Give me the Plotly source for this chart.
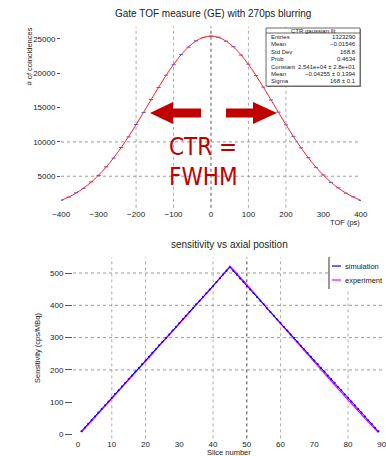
import plotly.graph_objects as go

# ---------------- data ----------------
tof_ps = [-400, -380, -360, -340, -320, -300, -280, -260, -240, -220, -200, -180, -160, -140,
          -120, -100, -80, -60, -40, -20, 0, 20, 40, 60, 80, 100, 120, 140, 160, 180, 200,
          220, 240, 260, 280, 300, 320, 340, 360, 380, 400]
hist_counts = [1520, 1950, 2590, 3250, 4170, 5120, 6360, 7640, 9190, 10740, 12540, 14290,
               16170, 17930, 19720, 21250, 22720, 23810, 24730, 25200, 25420, 25250, 24680,
               23870, 22650, 21320, 19650, 17990, 16110, 14340, 12480, 10810, 9130, 7700,
               6300, 5180, 4110, 3300, 2530, 1990, 1470]
fit_counts = [1492, 1968, 2558, 3279, 4142, 5159, 6336, 7672, 9158, 10780, 12510, 14313,
              16145, 17957, 19688, 21285, 22686, 23840, 24700, 25231, 25410, 25231, 24700,
              23840, 22686, 21285, 19688, 17957, 16145, 14313, 12510, 10780, 9158, 7672,
              6336, 5159, 4142, 3279, 2558, 1968, 1492]

stats_title = "CTR gaussian fit"
stats_labels = ["Entries", "Mean", "Std Dev", "Prob", "Constant", "Mean", "Sigma"]
stats_values = ["1323290", "\u22120.01546", "168.8", "0.4634",
                "2.541e+04 \u00b1 2.8e+01", "\u22120.04255 \u00b1 0.1394", "168 \u00b1 0.1"]

slices = list(range(1, 90))
simulation = [10, 22, 33, 45, 56, 68, 79, 91, 102, 114, 126, 137, 149, 160, 172, 183, 195,
              206, 218, 229, 241, 253, 264, 276, 287, 299, 310, 322, 333, 345, 357, 368, 380,
              391, 403, 414, 426, 437, 449, 460, 472, 484, 495, 507, 518,
              506, 495, 483, 472, 460, 449, 437, 426, 414, 403, 391, 379, 368, 356, 345, 333,
              322, 310, 299, 287, 275, 264, 252, 241, 229, 218, 206, 195, 183, 171, 160, 148,
              137, 125, 114, 102, 91, 79, 68, 56, 44, 33, 21, 10]
experiment = [8, 19, 31, 42, 54, 65, 77, 88, 100, 111, 123, 135, 146, 158, 169, 181, 192,
              204, 215, 227, 239, 250, 262, 273, 285, 297, 308, 320, 331, 343, 355, 366, 378,
              389, 401, 413, 424, 436, 447, 459, 471, 482, 494, 506, 521,
              510, 499, 487, 476, 464, 452, 440, 427, 415, 403, 391, 379, 367, 355, 344, 332,
              320, 308, 297, 285, 273, 261, 249, 237, 224, 212, 200, 189, 177, 165, 154, 142,
              131, 119, 108, 96, 85, 73, 62, 50, 39, 27, 16, 6]

top_xticks = [-400, -300, -200, -100, 0, 100, 200, 300, 400]
top_xlabels = ["\u2212400", "\u2212300", "\u2212200", "\u2212100", "0", "100", "200", "300", "400"]
top_yticks = [5000, 10000, 15000, 20000, 25000]
top_ylabels = ["5000", "10000", "15000", "20000", "25000"]
bot_xticks = [0, 10, 20, 30, 40, 50, 60, 70, 80, 90]
bot_yticks = [0, 100, 200, 300, 400, 500]

top_vgrid = [-200, -100, 0, 100, 200]
top_hgrid = [5000, 10000]
bot_vgrid = [10, 20, 40, 50, 60, 80]
bot_hgrid = [200, 300, 400, 500]

# ---------------- layout helpers ----------------
W, H = 386, 456
def px(x):
    return x / W
def py(y):
    return 1 - y / H

FONT = "Liberation Sans, Arial, sans-serif"
TXT = "#222222"
RED = "#c00000"

fig = go.Figure()

# top chart
fig.add_trace(go.Scatter(x=tof_ps, y=hist_counts, mode="markers",
                         marker=dict(symbol="line-ew", size=3, color="#3030ff",
                                     line=dict(color="rgba(40,40,255,0.8)", width=1)),
                         xaxis="x", yaxis="y", showlegend=False))
fig.add_trace(go.Scatter(x=tof_ps, y=fit_counts, mode="lines", line_shape="spline",
                         line=dict(color="#ff2020", width=1),
                         xaxis="x", yaxis="y", showlegend=False))

# bottom chart
fig.add_trace(go.Scatter(x=slices, y=experiment, mode="lines",
                         line=dict(color="#ff00ff", width=1.3),
                         xaxis="x2", yaxis="y2", showlegend=False, name="experiment"))
fig.add_trace(go.Scatter(x=slices, y=simulation, mode="lines+markers",
                         line=dict(color="#0000ff", width=1),
                         marker=dict(size=2, color="#0000ff"),
                         xaxis="x2", yaxis="y2", showlegend=False, name="simulation"))

shapes = []
# gridlines
for v in top_vgrid:
    shapes.append(dict(type="line", xref="x", yref="y domain", x0=v, x1=v, y0=0, y1=1,
                       line=dict(color="#555555" if v == 0 else "#aaaaaa", width=1, dash="dot"),
                       layer="below"))
for v in top_hgrid:
    shapes.append(dict(type="line", xref="x domain", yref="y", x0=0, x1=1, y0=v, y1=v,
                       line=dict(color="#999999", width=1, dash="dot"), layer="below"))
for v in bot_vgrid:
    shapes.append(dict(type="line", xref="x2", yref="y2 domain", x0=v, x1=v, y0=0, y1=1,
                       line=dict(color="#444444" if v == 50 else "#aaaaaa", width=1, dash="dot"),
                       layer="below"))
for v in bot_hgrid:
    shapes.append(dict(type="line", xref="x2 domain", yref="y2", x0=0, x1=1, y0=v, y1=v,
                       line=dict(color="#999999", width=1, dash="dot"), layer="below"))

# arrows
def path(pts):
    return "M " + " L ".join(f"{px(a):.5f},{py(b):.5f}" for a, b in pts) + " Z"
left_arrow = [(150, 113), (173, 102), (173, 108.5), (201, 108.5), (201, 117.5), (173, 117.5), (173, 124)]
right_arrow = [(226, 108.5), (253, 108.5), (253, 102), (277, 113), (253, 124), (253, 117.5), (226, 117.5)]
for pts in (left_arrow, right_arrow):
    shapes.append(dict(type="path", xref="paper", yref="paper", path=path(pts),
                       fillcolor=RED, line=dict(width=0), layer="above"))

# stats box
shapes.append(dict(type="rect", xref="paper", yref="paper", x0=px(267), x1=px(361), y0=py(87), y1=py(29),
                   fillcolor="#888888", line=dict(width=0), layer="above"))
shapes.append(dict(type="rect", xref="paper", yref="paper", x0=px(266), x1=px(360), y0=py(86), y1=py(28),
                   fillcolor="white", line=dict(color="#444444", width=0.8), layer="above"))
shapes.append(dict(type="line", xref="paper", yref="paper", x0=px(266), x1=px(360), y0=py(33), y1=py(33),
                   line=dict(color="#444444", width=0.8), layer="above"))

# legend box (bottom)
shapes.append(dict(type="rect", xref="paper", yref="paper", x0=px(329), x1=px(390), y0=py(289), y1=py(257),
                   fillcolor="white", line=dict(width=0), layer="above"))
shapes.append(dict(type="line", xref="paper", yref="paper", x0=px(329), x1=px(329), y0=py(289), y1=py(257),
                   line=dict(color="#333333", width=1), layer="above"))
shapes.append(dict(type="line", xref="paper", yref="paper", x0=px(332), x1=px(341), y0=py(266), y1=py(266),
                   line=dict(color="#0000ff", width=1.2), layer="above"))
shapes.append(dict(type="line", xref="paper", yref="paper", x0=px(332), x1=px(341), y0=py(280), y1=py(280),
                   line=dict(color="#ff00ff", width=1.2), layer="above"))

annotations = []
def txt(x, y, s, size, xanchor="center", color=TXT, angle=0, family=FONT):
    annotations.append(dict(x=px(x), y=py(y), xref="paper", yref="paper", text=s, showarrow=False,
                            xanchor=xanchor, yanchor="middle", textangle=angle,
                            font=dict(family=family, size=size, color=color)))

txt(213, 13, "Gate TOF measure (GE) with 270ps blurring", 10)
txt(229, 244, "sensitivity vs axial position", 10)
txt(362, 222, "TOF (ps)", 7.5, xanchor="right")
txt(229, 452, "Slice number", 7.5)
txt(29.5, 56, "# of coincidences", 7.5, angle=-90)
txt(37, 348, "Sensitivity (cps/MBq)", 7.5, angle=-90)

# stats text
txt(313, 30.5, stats_title, 6)
for i, (lab, val) in enumerate(zip(stats_labels, stats_values)):
    yy = 37 + i * 7.4
    txt(269, yy, lab, 6, xanchor="left")
    txt(358, yy, val, 6, xanchor="right")

# legend text
txt(343, 266, "simulation", 7.5, xanchor="left")
txt(343, 280, "experiment", 7.5, xanchor="left")

# CTR = FWHM
BIGFONT = "Liberation Sans Narrow, Arial Narrow, DejaVu Sans Condensed, Liberation Sans, sans-serif"
txt(167, 147, "CTR =", 24, xanchor="left", color=RED, family=BIGFONT)
txt(167, 177, "FWHM", 24, xanchor="left", color=RED, family=BIGFONT)

axis_common = dict(showgrid=False, zeroline=False, showline=False, ticklabeloverflow="allow",
                   tickfont=dict(family=FONT, size=8, color=TXT))

fig.update_layout(
    width=W, height=H,
    margin=dict(l=0, r=0, t=0, b=0, autoexpand=False),
    paper_bgcolor="white", plot_bgcolor="white",
    xaxis=dict(domain=[px(61), px(361)], range=[-400.5, 400.5], anchor="y",
               tickvals=top_xticks, ticktext=top_xlabels, ticks="", **axis_common),
    yaxis=dict(domain=[py(207.8), py(26.6)], range=[400, 26800], anchor="x",
               tickvals=top_yticks, ticktext=top_ylabels,
               ticks="outside", ticklen=3, tickcolor="#555555", **axis_common),
    xaxis2=dict(domain=[px(73), px(382.5)], range=[-1.5, 90.2], anchor="y2",
                tickvals=bot_xticks, ticks="", **axis_common),
    yaxis2=dict(domain=[py(438.4), py(257.5)], range=[-12, 548], anchor="x2",
                tickvals=bot_yticks,
                ticks="outside", ticklen=7, tickcolor="#555555", **axis_common),
    shapes=shapes,
    annotations=annotations,
)

fig.write_html("out.html")
